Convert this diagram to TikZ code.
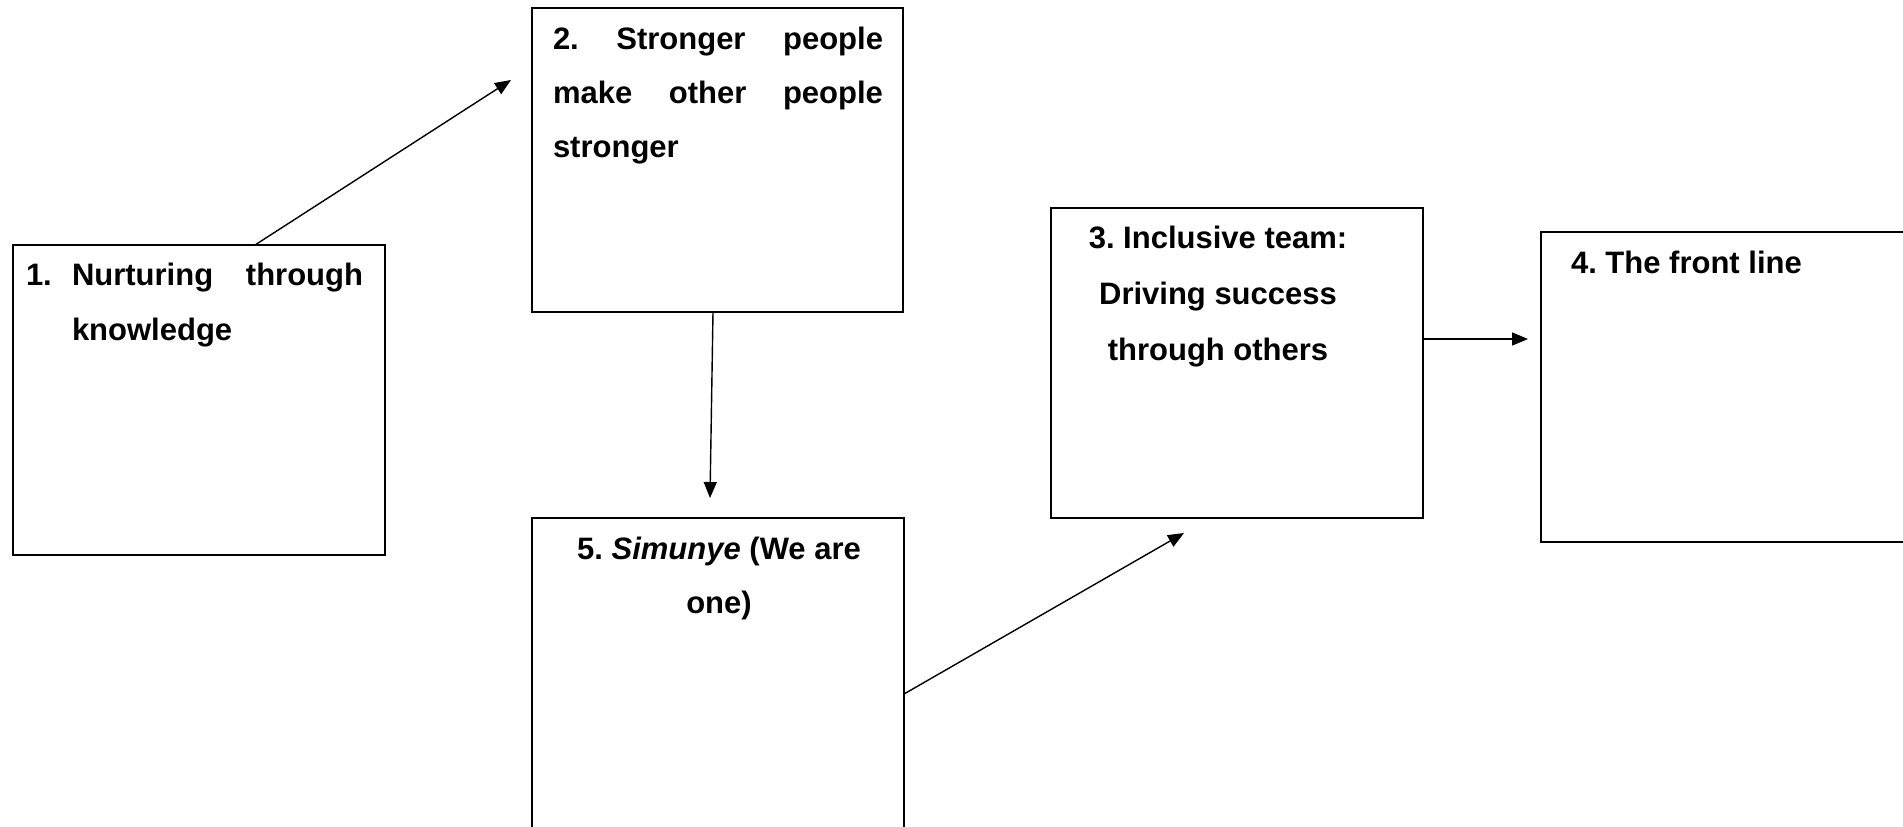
\documentclass[tikz,border=0pt]{standalone}
\usepackage{fontspec}
\setmainfont{Liberation Sans}
\usetikzlibrary{arrows.meta,calc}
\frenchspacing

\tikzset{
  box/.style={draw, line width=2pt, rectangle, inner sep=0pt, outer sep=0pt},
  label/.style={inner sep=0pt, outer sep=0pt, font=\bfseries\fontsize{31}{31}\selectfont},
  link/.style={line width=1.4pt, -{Triangle[length=16pt,width=13pt]}}
}

\begin{document}
\begin{tikzpicture}[x=1pt, y=-1pt]
  \useasboundingbox (0,0) rectangle (1903,827);

  % the five boxes
  \node[box, minimum width=372pt, minimum height=310pt] (b1) at (199,400) {};
  \node[box, minimum width=371pt, minimum height=304pt] (b2) at (717.5,160) {};
  \node[box, minimum width=372pt, minimum height=310pt] (b3) at (1237,363) {};
  \node[box, minimum width=372pt, minimum height=310pt] (b4) at (1727,387) {};
  \node[box, minimum width=372pt, minimum height=314pt] (b5) at (718,675) {};

  % box 1
  \node[label, anchor=base west] (t1n) at (26,285) {1.};
  \node[label, anchor=base west] (t1a) at (72,285) {\makebox[291pt][s]{Nurturing through}};
  \node[label, anchor=base west] (t1b) at (72,340) {knowledge};

  % box 2
  \node[label, anchor=base west] (t2a) at (553,49) {\makebox[330pt][s]{2. Stronger people}};
  \node[label, anchor=base west] (t2b) at (553,103) {\makebox[330pt][s]{make other people}};
  \node[label, anchor=base west] (t2c) at (553,157) {stronger};

  % box 3
  \node[label, anchor=base] (t3a) at (1218,248) {3. Inclusive team:};
  \node[label, anchor=base] (t3b) at (1218,304) {Driving success};
  \node[label, anchor=base] (t3c) at (1218,360) {through others};

  % box 4
  \node[label, anchor=base west] (t4a) at (1571,273) {4. The front line};

  % box 5
  \node[label, anchor=base] (t5a) at (719,559) {5. \textit{Simunye} (We are};
  \node[label, anchor=base] (t5b) at (719,613) {one)};

  % arrow ends
  \coordinate (e12) at (511,80);
  \coordinate (e25) at (710,498);
  \coordinate (e53) at (1184,533);
  \coordinate (e34) at (1528,339);

  % connectors
  \draw[link] ($(b1.north west)+(242,0)$) -- (e12);
  \draw[link] ($(b2.south west)+(181,0)$) -- (e25);
  \draw[link] ($(b5.north east)+(0,176)$) -- (e53);
  \draw[link] ($(b3.north east)+(0,131)$) -- (e34);
\end{tikzpicture}
\end{document}
